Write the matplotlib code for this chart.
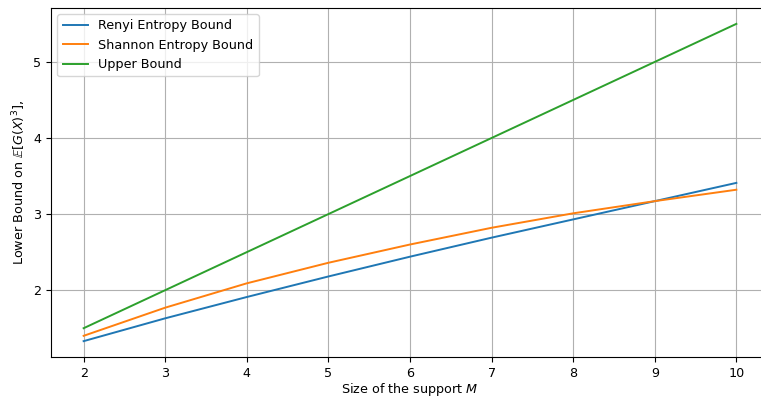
import matplotlib
matplotlib.use("Agg")
import matplotlib.pyplot as plt

M = [2, 3, 4, 5, 6, 7, 8, 9, 10]
renyi = [1.33, 1.63, 1.91, 2.18, 2.44, 2.69, 2.93, 3.17, 3.41]
shannon = [1.40, 1.77, 2.09, 2.36, 2.60, 2.82, 3.01, 3.17, 3.32]
upper = [1.5, 2.0, 2.5, 3.0, 3.5, 4.0, 4.5, 5.0, 5.5]

plt.rcParams["font.size"] = 9.2
plt.rcParams["lines.linewidth"] = 1.4

fig = plt.figure(figsize=(7.61, 4.0), dpi=100)
# right spine is cropped off in the reference
ax = fig.add_axes([51 / 761, 43 / 400, 718 / 761, 349 / 400])

ax.plot(M, renyi, label="Renyi Entropy Bound")
ax.plot(M, shannon, label="Shannon Entropy Bound")
ax.plot(M, upper, label="Upper Bound")

ax.set_xlabel("Size of the support $M$", labelpad=1)
ax.set_ylabel(r"Lower Bound on $\mathbb{E}[G(X)^3]$,")
ax.set_yticks([2, 3, 4, 5])
ax.grid(True)
ax.legend(loc="upper left")

fig.savefig("out.png", dpi=100)
